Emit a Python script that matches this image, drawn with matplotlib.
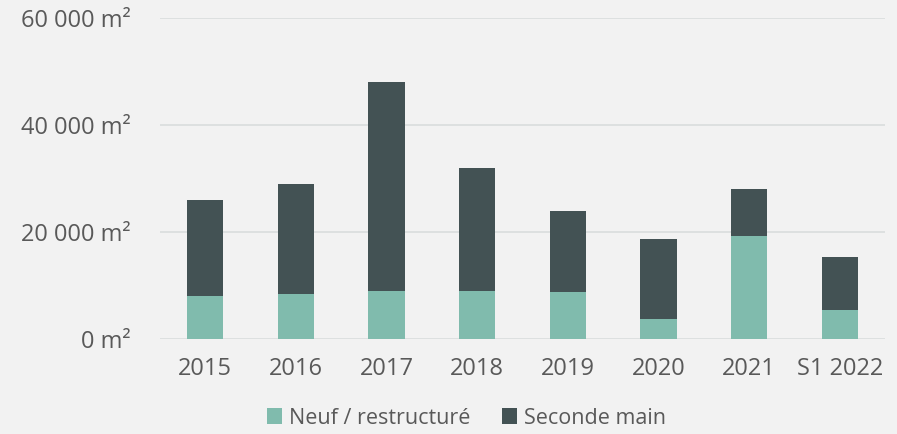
import numpy as np
import matplotlib.pyplot as plt
from matplotlib.ticker import FuncFormatter, MultipleLocator

# ===== données =====
categories = ['2015', '2016', '2017', '2018', '2019', '2020', '2021', 'S1 2022']
neuf = [8000, 8500, 9000, 9000, 8700, 3800, 19300, 5400]
seconde = [18000, 20500, 39000, 23000, 15300, 14900, 8700, 10000]

c_neuf = '#80BBAD'
c_seconde = '#435254'
c_text = '#595959'
c_grid = '#D9DDDD'
bg = '#F2F2F2'

plt.rcParams['font.family'] = ['Open Sans', 'DejaVu Sans']

fig = plt.figure(figsize=(8.97, 4.34), dpi=100, facecolor=bg)
ax = fig.add_axes([160/897, 1-339/434, 725/897, 321/434])
ax.set_facecolor(bg)

x = np.arange(len(categories))
ax.bar(x, neuf, width=0.4, color=c_neuf, label='Neuf / restructuré', zorder=3)
ax.bar(x, seconde, width=0.4, bottom=neuf, color=c_seconde, label='Seconde main', zorder=3)

ax.set_xlim(-0.5, len(categories) - 0.5)
ax.set_ylim(0, 60000)
ax.yaxis.set_major_locator(MultipleLocator(20000))
ax.yaxis.set_major_formatter(FuncFormatter(lambda v, p: f"{int(v):,} m²".replace(',', ' ')))
ax.grid(axis='y', color=c_grid, linewidth=1.2, zorder=0)
for s in ax.spines.values():
    s.set_visible(False)

ax.set_xticks(x)
ax.set_xticklabels(categories)
ax.tick_params(axis='both', length=0, colors=c_text, labelsize=17)
ax.tick_params(axis='y', pad=21)
ax.tick_params(axis='x', pad=13)

leg = fig.legend(loc='center', bbox_to_anchor=(0.52, 1-418/434), ncol=2, frameon=False,
                 fontsize=15.5, handlelength=0.7, handleheight=0.7, handletextpad=0.3,
                 columnspacing=1.5)
for t in leg.get_texts():
    t.set_color(c_text)

fig.savefig('out.png', dpi=100, facecolor=bg)
